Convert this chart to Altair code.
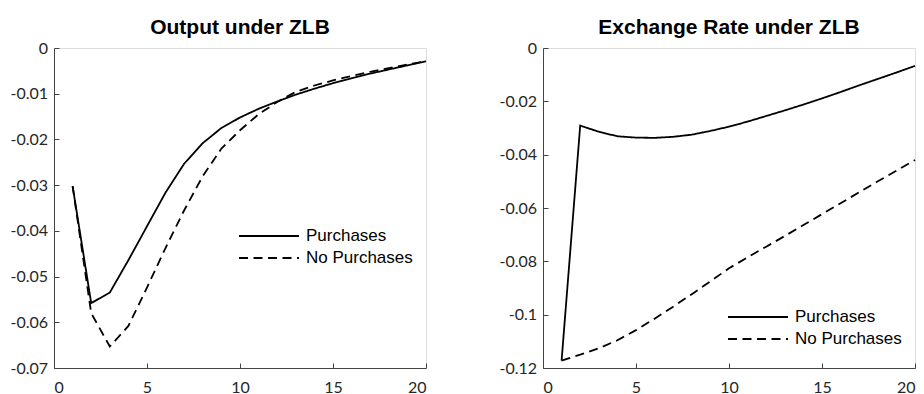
import altair as alt
import pandas as pd

# Impulse responses over 20 periods
periods = list(range(1, 21))
series_names = ["Purchases", "No Purchases"]

output_purchases = [-0.0302, -0.0558, -0.0535, -0.0464, -0.0390, -0.0316, -0.0253, -0.0208,
                    -0.0175, -0.0152, -0.0133, -0.0117, -0.0102, -0.0089, -0.0077, -0.0066,
                    -0.0056, -0.0047, -0.0038, -0.0029]
output_no_purchases = [-0.0302, -0.0580, -0.0653, -0.0608, -0.0524, -0.0437, -0.0355, -0.0280,
                       -0.0220, -0.0180, -0.0145, -0.0118, -0.0096, -0.0082, -0.0071, -0.0061,
                       -0.0052, -0.0044, -0.0036, -0.0029]

fx_purchases = [-0.1172, -0.0291, -0.0314, -0.0331, -0.0336, -0.0337, -0.0333, -0.0325,
                -0.0311, -0.0295, -0.0276, -0.0255, -0.0234, -0.0212, -0.0189, -0.0165,
                -0.0140, -0.0116, -0.0092, -0.0067]
fx_no_purchases = [-0.1172, -0.1150, -0.1126, -0.1096, -0.1058, -0.1015, -0.0970, -0.0923,
                   -0.0875, -0.0826, -0.0785, -0.0745, -0.0705, -0.0664, -0.0623, -0.0582,
                   -0.0541, -0.0500, -0.0460, -0.0420]

period_ticks = [0, 5, 10, 15, 20]
output_ticks = [0, -0.01, -0.02, -0.03, -0.04, -0.05, -0.06, -0.07]
fx_ticks = [0, -0.02, -0.04, -0.06, -0.08, -0.1, -0.12]

TICK_FONT = "Lato"
TEXT_FONT = "Liberation Sans"
INK = "#262626"
PANEL_W = 372
PANEL_H = 320


def long_frame(purchases, no_purchases):
    return pd.DataFrame({
        "period": periods * 2,
        "value": purchases + no_purchases,
        "series": [series_names[0]] * len(periods) + [series_names[1]] * len(periods),
    })


def axis(values, label_padding):
    return alt.Axis(
        values=values,
        grid=False,
        title=None,
        domainColor="#444444",
        domainWidth=1,
        tickColor="#444444",
        tickWidth=1,
        tickSize={"expr": "-5"},
        labelFont=TICK_FONT,
        labelFontSize=16,
        labelColor=INK,
        labelPadding=label_padding,
        labelExpr="'' + datum.value",
    )


def panel(df, title, y_ticks, legend_y):
    y_min = min(y_ticks)
    lines = (
        alt.Chart(df)
        .mark_line(color="black", strokeWidth=1.8)
        .encode(
            x=alt.X("period:Q", scale=alt.Scale(domain=[0, 20], nice=False),
                    axis=axis(period_ticks, 16)),
            y=alt.Y("value:Q", scale=alt.Scale(domain=[y_min, 0], nice=False, zero=False),
                    axis=axis(y_ticks, 11.5)),
            strokeDash=alt.StrokeDash(
                "series:N",
                scale=alt.Scale(domain=series_names, range=[[1, 0], [9, 5.5]]),
                legend=alt.Legend(
                    title=None,
                    orient="none",
                    legendX=202,
                    legendY=legend_y,
                    padding=0,
                    symbolType="M-2.5,0H2.5",
                    symbolSize=576,
                    symbolStrokeWidth=1.8,
                    symbolStrokeColor="black",
                    labelOffset=24,
                    rowPadding=1,
                    labelFont=TEXT_FONT,
                    labelFontSize=17,
                    labelColor="black",
                ),
            ),
            detail="series:N",
        )
    )
    heading = (
        alt.Chart(pd.DataFrame({"heading": [title]}))
        .mark_text(font=TEXT_FONT, fontSize=21, fontWeight="bold", color="black",
                   align="center", baseline="alphabetic")
        .encode(text="heading:N", x=alt.value(PANEL_W / 2), y=alt.value(-14))
    )
    return alt.layer(lines, heading).properties(width=PANEL_W, height=PANEL_H)


left = panel(long_frame(output_purchases, output_no_purchases), "Output under ZLB", output_ticks, 175)
right = panel(long_frame(fx_purchases, fx_no_purchases), "Exchange Rate under ZLB", fx_ticks, 256)

chart = (
    alt.hconcat(left, right, spacing=117, bounds="flush")
    .resolve_scale(strokeDash="independent")
    .resolve_legend(strokeDash="independent")
    .properties(padding={"left": 9, "top": 16, "right": 0, "bottom": 0})
    .configure_view(stroke=None)
    .configure(background="white")
)

chart.save("out.html", embed_options={"renderer": "svg", "actions": False})
